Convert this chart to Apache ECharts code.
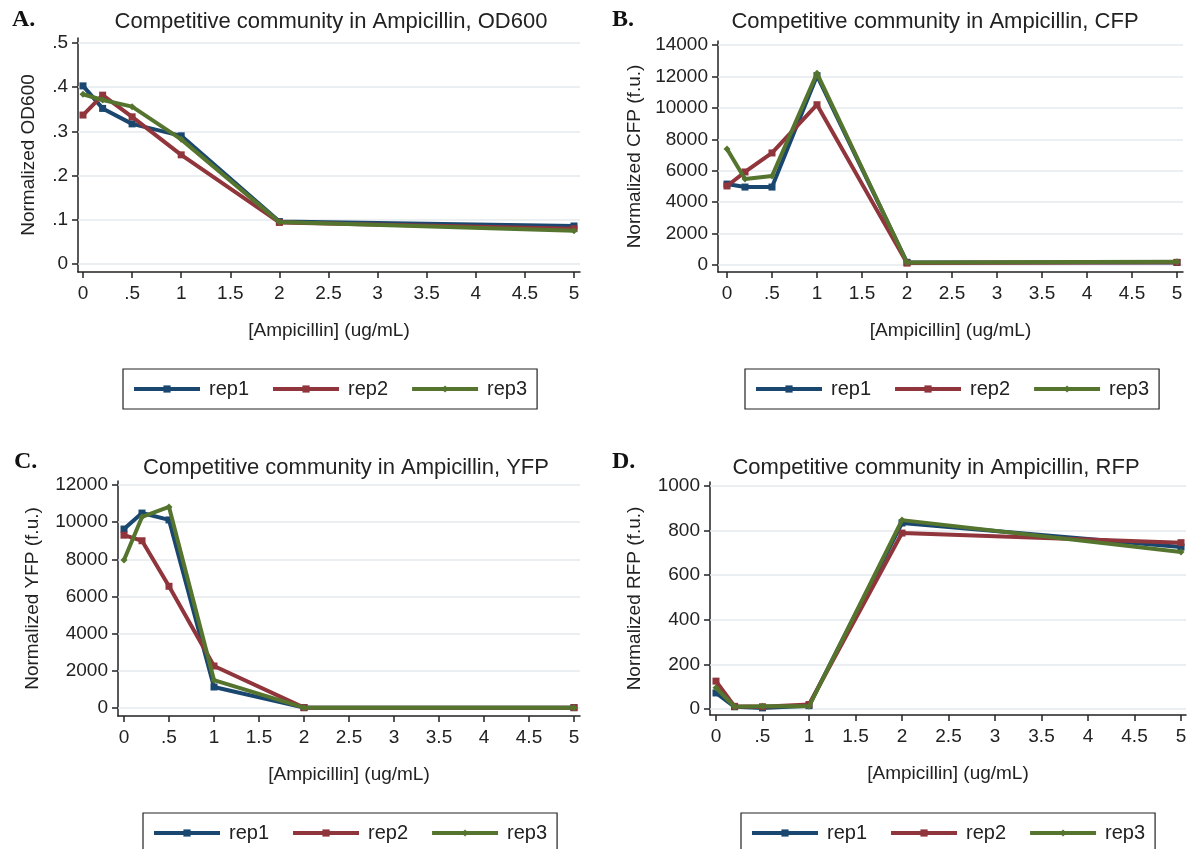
<!DOCTYPE html>
<html>
<head>
<meta charset="utf-8">
<script src="https://cdn.jsdelivr.net/npm/echarts@6/dist/echarts.min.js"></script>
<style>
    html, body { margin: 0; padding: 0; background: #fff; }
    #main { width: 1190px; height: 849px; }
</style>
</head>
<body>
<div id="main"></div>
<script>
// ampicillin concentrations (ug/mL), shared by all four panels
var dose = [0, 0.2, 0.5, 1, 2, 5];
var xTicks = [0, 0.5, 1, 1.5, 2, 2.5, 3, 3.5, 4, 4.5, 5];
var repNames = ["rep1", "rep2", "rep3"];

// A. OD600
var od600Rep1 = [0.403, 0.352, 0.317, 0.290, 0.096, 0.086];
var od600Rep2 = [0.337, 0.382, 0.333, 0.247, 0.094, 0.080];
var od600Rep3 = [0.384, 0.371, 0.356, 0.282, 0.095, 0.075];
var od600Ticks = [0, 0.1, 0.2, 0.3, 0.4, 0.5];

// B. CFP
var cfpRep1 = [5150, 4960, 4960, 12050, 170, 160];
var cfpRep2 = [5030, 5920, 7130, 10200, 120, 170];
var cfpRep3 = [7380, 5470, 5660, 12200, 160, 210];
var cfpTicks = [0, 2000, 4000, 6000, 8000, 10000, 12000, 14000];

// C. YFP
var yfpRep1 = [9630, 10490, 10120, 1130, 20, 20];
var yfpRep2 = [9300, 9000, 6550, 2260, 20, 20];
var yfpRep3 = [7960, 10280, 10820, 1500, 20, 20];
var yfpTicks = [0, 2000, 4000, 6000, 8000, 10000, 12000];

// D. RFP
var rfpRep1 = [72, 10, 5, 15, 834, 726];
var rfpRep2 = [125, 12, 10, 20, 789, 746];
var rfpRep3 = [95, 10, 12, 12, 847, 704];
var rfpTicks = [0, 200, 400, 600, 800, 1000];

var colors = ["#1a476f", "#90353b", "#55752f"];
var symbols = ["rect", "rect", "diamond"];
var font = "'Liberation Sans', Arial, sans-serif";

// Stata-like tick text: drop the leading zero (".5")
function stataLabel(v) {
    if (v === 0) return "0";
    return String(v).replace(/^0\./, ".");
}

// axis range so the ticks land where they do in the picture
// (axis lines stick out a few pixels past the first and last tick)
function span(lo, hi, loPx, hiPx, startPx, endPx) {
    var unit = (hi - lo) / (hiPx - loPx);
    return [lo - (loPx - startPx) * unit, hi + (endPx - hiPx) * unit];
}

var panels = [
    { letter: "A.", title: "Competitive community in Ampicillin, OD600", yName: "Normalized OD600",
      reps: [od600Rep1, od600Rep2, od600Rep3], yTicks: od600Ticks,
      grid: { left: 78, top: 38, width: 502, height: 234 },
      xr: span(0, 5, 83, 574, 78, 580), yr: span(0, 0.5, 264, 43, 272, 38),
      yNameGap: 40, letterX: 12, letterY: 8, titleX: 331, titleY: 10, legendX: 123, legendY: 369 },
    { letter: "B.", title: "Competitive community in Ampicillin, CFP", yName: "Normalized CFP (f.u.)",
      reps: [cfpRep1, cfpRep2, cfpRep3], yTicks: cfpTicks,
      grid: { left: 718, top: 41, width: 465, height: 231 },
      xr: span(0, 5, 727, 1177, 718, 1183), yr: span(0, 14000, 265, 45, 272, 41),
      yNameGap: 74, letterX: 612, letterY: 8, titleX: 935, titleY: 10, legendX: 745, legendY: 369 },
    { letter: "C.", title: "Competitive community in Ampicillin, YFP", yName: "Normalized YFP (f.u.)",
      reps: [yfpRep1, yfpRep2, yfpRep3], yTicks: yfpTicks,
      grid: { left: 118, top: 481, width: 462, height: 235 },
      xr: span(0, 5, 124, 574, 118, 580), yr: span(0, 12000, 708, 485, 716, 481),
      yNameGap: 76, letterX: 14, letterY: 450, titleX: 346, titleY: 456, legendX: 143, legendY: 813 },
    { letter: "D.", title: "Competitive community in Ampicillin, RFP", yName: "Normalized RFP (f.u.)",
      reps: [rfpRep1, rfpRep2, rfpRep3], yTicks: rfpTicks,
      grid: { left: 710, top: 482, width: 476, height: 233 },
      xr: span(0, 5, 716, 1181, 710, 1186), yr: span(0, 1000, 709, 486, 715, 482),
      yNameGap: 66, letterX: 612, letterY: 450, titleX: 936, titleY: 456, legendX: 741, legendY: 813 }
];

var option = {
    backgroundColor: "#fff",
    animation: false,
    title: [], grid: [], xAxis: [], yAxis: [], legend: [], series: []
};

panels.forEach(function (p, i) {
    option.title.push({
        text: p.letter, left: p.letterX, top: p.letterY, padding: 0,
        textStyle: { fontFamily: "'Liberation Serif', 'Times New Roman', serif", fontWeight: "bold", fontSize: 24, color: "#111" }
    });
    option.title.push({
        text: p.title, left: p.titleX, top: p.titleY + 1, padding: 0, textAlign: "center",
        textStyle: { fontFamily: font, fontWeight: "normal", fontSize: 22, color: "#222" }
    });
    option.grid.push(p.grid);

    option.xAxis.push({
        type: "value", gridIndex: i, min: p.xr[0], max: p.xr[1],
        name: "[Ampicillin] (ug/mL)", nameLocation: "middle", nameGap: 49,
        nameTextStyle: { fontFamily: font, fontSize: 19, color: "#222" },
        axisLine: { show: true, onZero: false, lineStyle: { color: "#222", width: 1.5 } },
        axisTick: { show: true, length: 6, customValues: xTicks, lineStyle: { color: "#222", width: 1.5 } },
        axisLabel: { customValues: xTicks, formatter: stataLabel, margin: 12,
            fontFamily: font, fontSize: 19, color: "#222" },
        splitLine: { show: false }
    });
    option.yAxis.push({
        type: "value", gridIndex: i, min: p.yr[0], max: p.yr[1],
        name: p.yName, nameLocation: "middle", nameGap: p.yNameGap,
        nameTextStyle: { fontFamily: font, fontSize: 19, color: "#222" },
        axisLine: { show: true, onZero: false, lineStyle: { color: "#222", width: 1.5 } },
        axisTick: { show: true, length: 6, customValues: p.yTicks, lineStyle: { color: "#222", width: 1.5 } },
        axisLabel: { customValues: p.yTicks, formatter: stataLabel, margin: 10,
            fontFamily: font, fontSize: 19, color: "#222" },
        splitLine: { show: false }
    });

    // light horizontal grid lines at the y ticks, kept under the data
    option.series.push({
        name: "grid" + i, type: "line", xAxisIndex: i, yAxisIndex: i, data: [], z: 1,
        silent: true,
        markLine: {
            silent: true, symbol: "none", label: { show: false }, z: 1,
            lineStyle: { color: "#e6eaee", width: 1.5, type: "solid" },
            data: p.yTicks.map(function (v) { return { yAxis: v }; })
        }
    });

    p.reps.forEach(function (vals, r) {
        option.series.push({
            name: repNames[r], type: "line", xAxisIndex: i, yAxisIndex: i, z: 10 + r,
            data: dose.map(function (d, k) { return [d, vals[k]]; }),
            symbol: symbols[r], symbolSize: 7, showSymbol: true,
            lineStyle: { color: colors[r], width: 4 },
            itemStyle: { color: colors[r] }
        });
    });

    option.legend.push({
        data: repNames, left: p.legendX, top: p.legendY, orient: "horizontal",
        padding: [10, 10, 10, 9], itemGap: 22, itemWidth: 66, itemHeight: 9,
        borderColor: "#222", borderWidth: 1.2, borderRadius: 0,
        lineStyle: { width: 4 },
        selectedMode: false,
        textStyle: { fontFamily: font, fontSize: 20, color: "#222", padding: [0, 0, 0, 4] }
    });
});

var myChart = echarts.init(document.getElementById("main"));
myChart.setOption(option);
</script>
</body>
</html>
